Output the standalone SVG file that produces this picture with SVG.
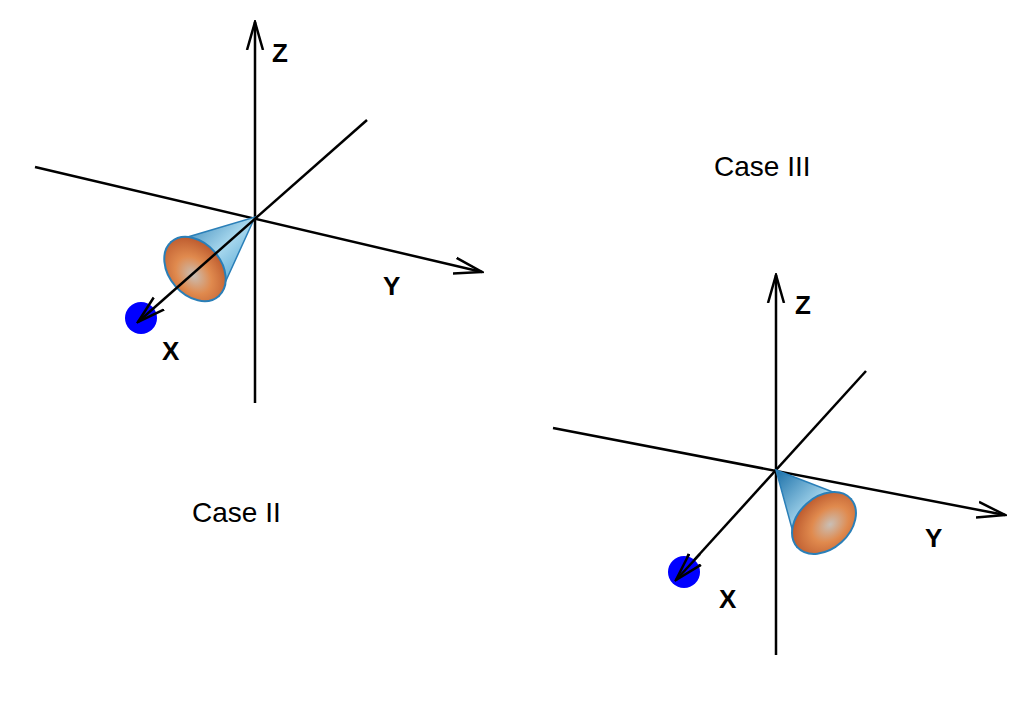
<svg xmlns="http://www.w3.org/2000/svg" width="1030" height="721" viewBox="0 0 1030 721">
<style>
.ax{stroke:#000;stroke-width:2.5;fill:none}
.lbl{font-family:"Liberation Sans",Arial,sans-serif;font-size:26px;font-weight:bold;fill:#000}
.cap{font-family:"Liberation Sans",Arial,sans-serif;font-size:28px;fill:#000}
.cone{fill:url(#blue);stroke:#2a7fb8;stroke-width:1.5}
.base{fill:url(#orange);stroke:#2a7fb8;stroke-width:2}
</style>
<defs>
<marker id="ah" markerWidth="30" markerHeight="20" refX="28" refY="10" orient="auto" markerUnits="userSpaceOnUse">
<path d="M0,2 L28,10 L0,18" fill="none" stroke="#000" stroke-width="2.5"/>
</marker>
<linearGradient id="blue" x1="0" y1="0" x2="1" y2="1">
<stop offset="0" stop-color="#1a6fa8"/><stop offset="0.5" stop-color="#a8d8ee"/><stop offset="1" stop-color="#2a8cc4"/>
</linearGradient>
<radialGradient id="orange" cx="0.55" cy="0.6" r="0.65">
<stop offset="0" stop-color="#c9bfb6"/><stop offset="0.45" stop-color="#e08a4e"/><stop offset="1" stop-color="#b8542a"/>
</radialGradient>
</defs>
<g id="connectors">
<line class="ax" x1="255" y1="403" x2="255" y2="22" marker-end="url(#ah)"/>
<line class="ax" x1="35" y1="167" x2="482" y2="272" marker-end="url(#ah)"/>
<line class="ax" x1="776" y1="655" x2="776" y2="275" marker-end="url(#ah)"/>
<line class="ax" x1="553" y1="428" x2="1005" y2="515" marker-end="url(#ah)"/>
<line class="ax" x1="866" y1="371" x2="676" y2="580" marker-end="url(#ah)"/>
</g>
<g id="cone2">
<path class="cone" d="M255,217 L219,296 L171,242 Z"/>
<ellipse class="base" cx="195" cy="269" rx="36" ry="26" transform="rotate(49 195 269)"/>
</g>
<g id="xaxis2"><circle cx="141" cy="318" r="16" fill="#0000ff"/>
<line class="ax" x1="367" y1="120" x2="138" y2="322" marker-end="url(#ah)"/></g>
<g id="cone3">
<path class="cone" d="M776,470 L851,499 L797,547 Z"/>
<ellipse class="base" cx="824" cy="523" rx="36" ry="26" transform="rotate(-42 824 523)"/>
</g>
<g id="ball3"><circle cx="684" cy="572" r="16" fill="#0000ff"/>
<line class="ax" x1="700" y1="554" x2="676" y2="580" marker-end="url(#ah)"/></g>
<g id="labels">
<text class="lbl" x="272" y="62">Z</text>
<text class="lbl" x="383" y="295">Y</text>
<text class="lbl" x="162" y="360">X</text>
<text class="cap" x="192" y="522">Case II</text>
<text class="cap" x="714" y="176">Case III</text>
<text class="lbl" x="795" y="314">Z</text>
<text class="lbl" x="925" y="547">Y</text>
<text class="lbl" x="719" y="608">X</text>
</g>
</svg>
